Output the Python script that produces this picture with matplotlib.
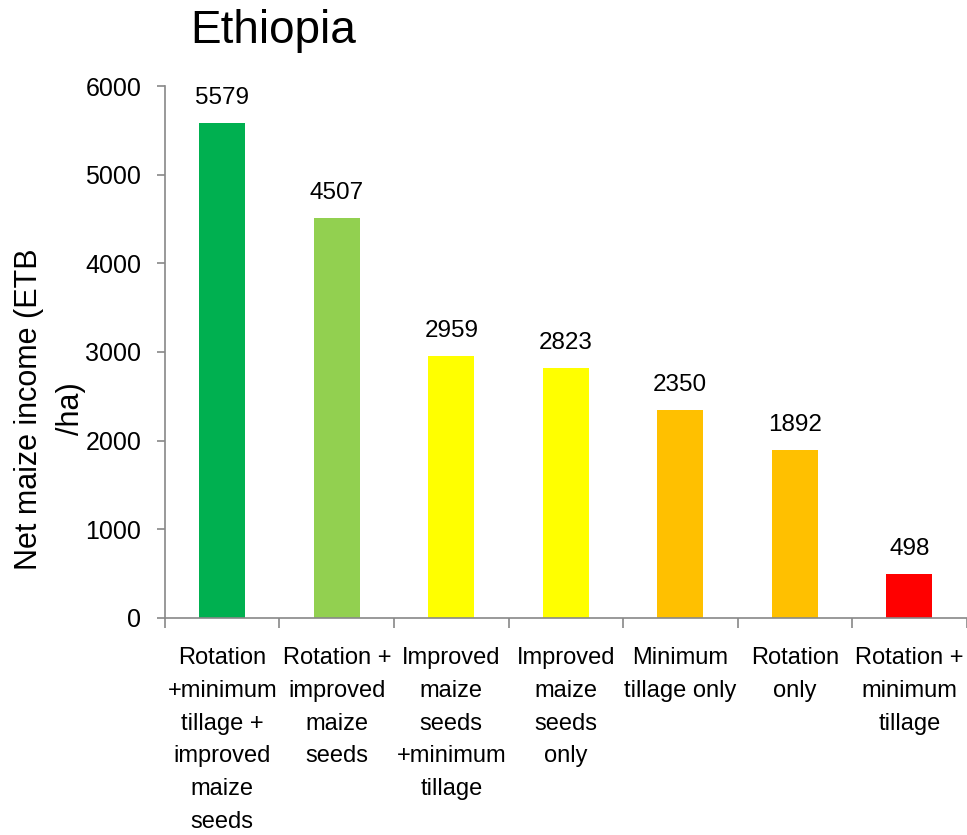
import matplotlib
matplotlib.use("Agg")
import matplotlib.pyplot as plt
import numpy as np

plt.rcParams['font.family'] = ['Liberation Sans', 'DejaVu Sans']

practices = [
    "Rotation\n+minimum\ntillage +\nimproved\nmaize\nseeds",
    "Rotation +\nimproved\nmaize\nseeds",
    "Improved\nmaize\nseeds\n+minimum\ntillage",
    "Improved\nmaize\nseeds\nonly",
    "Minimum\ntillage only",
    "Rotation\nonly",
    "Rotation +\nminimum\ntillage",
]
net_income = [5579, 4507, 2959, 2823, 2350, 1892, 498]
bar_colors = ["#00B050", "#92D050", "#FFFF00", "#FFFF00", "#FFC000", "#FFC000", "#FF0000"]

fig = plt.figure(figsize=(9.67, 8.35), dpi=100)
ax = fig.add_axes([0.1706, 0.2599, 0.829, 0.6371])

x = np.arange(len(practices))
bars = ax.bar(x, net_income, width=0.4, color=bar_colors)

for xi, v in zip(x, net_income):
    ax.annotate(str(v), (xi, v), xytext=(0, 10), textcoords="offset points",
                ha="center", va="bottom", fontsize=17.5)

ax.set_xlim(-0.5, len(practices) - 0.5)
ax.set_ylim(0, 6000)
ax.set_yticks(range(0, 6001, 1000))
ax.tick_params(axis="y", length=6, width=1.2, color="#888888", pad=11, labelsize=18)

# category labels at centres, tick marks between categories
ax.set_xticks(x)
ax.set_xticklabels(practices, fontsize=17, linespacing=1.63)
ax.set_xticks(np.arange(-0.5, len(practices)), minor=True)
ax.tick_params(axis="x", which="major", length=0, pad=21)
ax.tick_params(axis="x", which="minor", length=7, width=1.2, color="#888888")

for side in ("top", "right"):
    ax.spines[side].set_visible(False)
for side in ("left", "bottom"):
    ax.spines[side].set_color("#888888")
    ax.spines[side].set_linewidth(1.2)

ax.set_ylabel("Net maize income (ETB\n/ha)", fontsize=22, linespacing=1.55)
ax.yaxis.set_label_coords(-0.098, 0.393)

fig.text(190 / 967, 1 - 43 / 835, "Ethiopia", fontsize=33, va="baseline", ha="left")

fig.savefig("out.png", dpi=100)
